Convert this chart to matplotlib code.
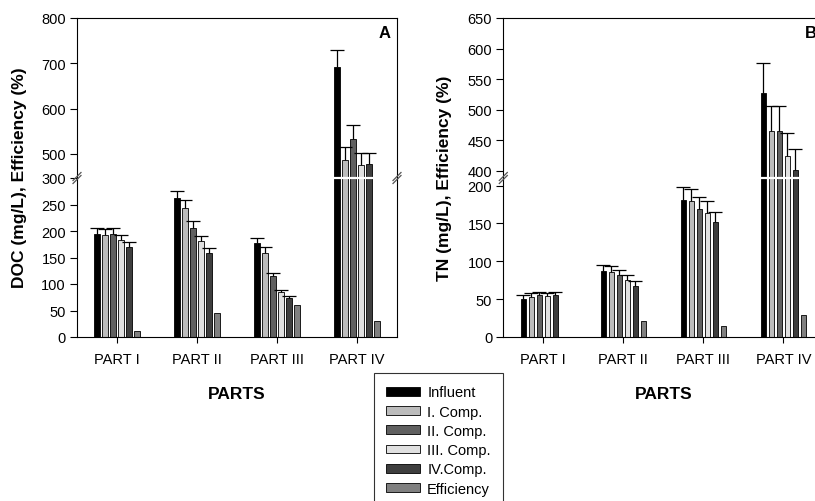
import matplotlib.pyplot as plt
from matplotlib.patches import Patch
from matplotlib.lines import Line2D
import numpy as np

plt.rcParams['font.family'] = ['Liberation Sans', 'DejaVu Sans']

# data
parts = ['PART I', 'PART II', 'PART III', 'PART IV']
series_names = ['Influent', 'I. Comp.', 'II. Comp.', 'III. Comp.', 'IV.Comp.', 'Efficiency']
colors = ['#000000', '#bcbcbc', '#606060', '#e0e0e0', '#3e3e3e', '#808080']

# DOC (panel A)
doc_influent = [195, 262, 178, 691]
doc_comp1 = [192, 244, 159, 486]
doc_comp2 = [194, 206, 115, 533]
doc_comp3 = [183, 181, 84, 476]
doc_comp4 = [170, 158, 73, 477]
doc_eff = [11, 45, 61, 30]
doc_err_influent = [11, 14, 9, 39]
doc_err_comp1 = [12, 14, 10, 29]
doc_err_comp2 = [11, 12, 6, 30]
doc_err_comp3 = [9, 10, 5, 26]
doc_err_comp4 = [9, 9, 5, 26]

# TN (panel B)
tn_influent = [50.5, 86.6, 181.5, 528]
tn_comp1 = [52.8, 85.7, 179.4, 465]
tn_comp2 = [54.9, 81.8, 169.3, 465]
tn_comp3 = [53.6, 74.7, 164, 424]
tn_comp4 = [55, 67.7, 151.7, 401]
tn_eff = [0, 20.6, 14, 28.5]
tn_err_influent = [5, 8, 16, 48]
tn_err_comp1 = [5, 8, 16, 41]
tn_err_comp2 = [4.5, 7, 15, 41]
tn_err_comp3 = [4.5, 7, 15, 37]
tn_err_comp4 = [4, 6, 14, 35]

W, H = 815, 502
fig = plt.figure(figsize=(W / 100, H / 100), dpi=100)

bar_w = 0.068
step = 0.1
x = np.arange(len(parts))


def fx(px):
    return px / W


def fy(py):
    return 1 - py / H


def panel(x0, x1, ybrk, lo_max, hi_min, hi_max, lo_ticks, hi_ticks, series, errs, tag):
    ax_lo = fig.add_axes([fx(x0), fy(338), fx(x1 - x0), fy(ybrk) - fy(338)])
    ax_hi = fig.add_axes([fx(x0), fy(ybrk), fx(x1 - x0), fy(19) - fy(ybrk)])
    for ax in (ax_lo, ax_hi):
        for i, vals in enumerate(series):
            xs = x + (i - 2.5) * step
            ax.bar(xs, vals, width=bar_w, color=colors[i], edgecolor='black', linewidth=0.6, zorder=2)
            if i < 5:
                tops = np.array(vals) + np.array(errs[i])
                ax.vlines(xs, vals, tops, color='black', lw=0.9, zorder=3)
                ax.plot(xs, tops, ls='none', marker='_', markersize=10, markeredgewidth=0.9,
                        color='black', zorder=3)
        ax.set_xlim(-0.5, 3.5)
        for s in ax.spines.values():
            s.set_linewidth(0.8)
        ax.tick_params(axis='y', direction='out', length=5, width=0.8, labelsize=10.5, pad=3)
    ax_lo.set_ylim(0, lo_max)
    ax_hi.set_ylim(hi_min, hi_max)
    ax_lo.set_yticks(lo_ticks)
    ax_hi.set_yticks(hi_ticks)
    ax_lo.spines['top'].set_visible(False)
    ax_hi.spines['bottom'].set_visible(False)
    ax_hi.tick_params(axis='x', bottom=False, labelbottom=False)
    ax_lo.set_xticks(x)
    ax_lo.set_xticklabels(parts)
    ax_lo.tick_params(axis='x', direction='out', length=4, width=0.8, labelsize=10.5, pad=7)
    ax_lo.set_xlabel('PARTS', fontsize=12.5, fontweight='bold', labelpad=14)

    # white cut across the tall bars
    left = 3 - 2.5 * step - bar_w / 2
    right = 3 + 1.5 * step + bar_w / 2
    ax_hi.plot([left, right], [hi_min, hi_min], color='white', lw=1.6, zorder=5, clip_on=False)

    # break marks
    for xb in (x0, x1):
        for dy in (-1.5, 1.5):
            fig.add_artist(Line2D([fx(xb - 4), fx(xb + 4)], [fy(ybrk + 4 + dy), fy(ybrk - 4 + dy)],
                                  color='#555555', lw=0.9))

    ax_hi.text(0.98, 0.91, tag, transform=ax_hi.transAxes, ha='right', va='center',
               fontsize=12, fontweight='bold')
    return ax_lo, ax_hi


panel(77, 397, 179, 300, 447, 800, [0, 50, 100, 150, 200, 250, 300], [500, 600, 700, 800],
      [doc_influent, doc_comp1, doc_comp2, doc_comp3, doc_comp4, doc_eff],
      [doc_err_influent, doc_err_comp1, doc_err_comp2, doc_err_comp3, doc_err_comp4], 'A')
panel(503.3, 823.3, 179, 210, 388, 650, [0, 50, 100, 150, 200], [400, 450, 500, 550, 600, 650],
      [tn_influent, tn_comp1, tn_comp2, tn_comp3, tn_comp4, tn_eff],
      [tn_err_influent, tn_err_comp1, tn_err_comp2, tn_err_comp3, tn_err_comp4], 'B')

fig.text(fx(20), fy(178), 'DOC (mg/L), Efficiency (%)', rotation=90, ha='center', va='center',
         fontsize=12.5, fontweight='bold')
fig.text(fx(445), fy(178), 'TN (mg/L), Efficiency (%)', rotation=90, ha='center', va='center',
         fontsize=12.5, fontweight='bold')

handles = [Patch(facecolor=c, edgecolor='black', linewidth=0.6) for c in colors]
leg = fig.legend(handles, series_names, loc='upper left', bbox_to_anchor=(fx(374), fy(374)),
                 fontsize=10.5, frameon=True, fancybox=False, edgecolor='black',
                 handlelength=2.3, handleheight=0.55, handletextpad=0.5, labelspacing=0.36,
                 borderpad=0.85, borderaxespad=0)
leg.get_frame().set_linewidth(0.8)

fig.savefig('out.png', dpi=100)
